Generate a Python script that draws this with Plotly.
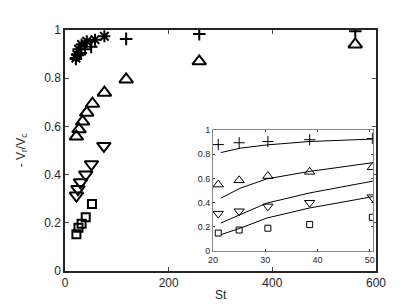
import plotly.graph_objects as go

# ---- main panel data ----
plus_st = [21, 25, 30.5, 38.5, 50.5, 118, 259, 560]
plus_v = [0.88, 0.895, 0.905, 0.92, 0.93, 0.963, 0.983, 0.995]
star_st = [21, 23, 26, 32, 42, 58, 76]
star_v = [0.884, 0.898, 0.92, 0.94, 0.953, 0.96, 0.974]
tri_st = [22, 27, 34, 42, 53, 76, 118, 259, 560]
tri_v = [0.558, 0.588, 0.62, 0.657, 0.694, 0.74, 0.795, 0.87, 0.94]
tdn_st = [22, 25, 30, 40, 51, 75]
tdn_v = [0.313, 0.34, 0.368, 0.40, 0.443, 0.519]
sq_st = [22, 26, 32, 40, 52]
sq_v = [0.152, 0.179, 0.196, 0.223, 0.278]

# ---- inset data ----
in_st = [21, 25, 30.5, 38.5, 50.5]
in_plus = [0.88, 0.895, 0.905, 0.92, 0.93]
in_tri = [0.55, 0.585, 0.62, 0.655, 0.693]
in_tdn = [0.31, 0.33, 0.37, 0.40, 0.446]
in_sq = [0.15, 0.175, 0.19, 0.22, 0.28]
curve_st = [21.5, 25.2, 30.3, 38.4, 50.8]
curve_plus = [0.814, 0.85, 0.877, 0.905, 0.926]
curve_tri = [0.438, 0.52, 0.597, 0.658, 0.732]
curve_tdn = [0.233, 0.30, 0.397, 0.48, 0.58]
curve_sq = [0.137, 0.19, 0.274, 0.356, 0.452]

FONT = "Liberation Sans, Arial, sans-serif"
fig = go.Figure()

def mk(x, y, sym, size, lw, xa="x", ya="y"):
    fig.add_trace(go.Scatter(x=x, y=y, mode="markers", xaxis=xa, yaxis=ya,
                             marker=dict(symbol=sym, size=size, color="black",
                                         line=dict(color="black", width=lw)),
                             showlegend=False, cliponaxis=True))

mk(plus_st, plus_v, "cross-thin-open", 9, 2)
mk(star_st, star_v, "asterisk-open", 10, 2)
mk(tri_st, tri_v, "triangle-up-open", 12, 2)
mk(tdn_st, tdn_v, "triangle-down-open", 12, 2)
mk(sq_st, sq_v, "square-open", 8, 2)

for cv in [curve_plus, curve_tri, curve_tdn, curve_sq]:
    fig.add_trace(go.Scatter(x=curve_st, y=cv, mode="lines", xaxis="x2", yaxis="y2",
                             line=dict(color="black", width=1), showlegend=False))
mk(in_st, in_plus, "cross-thin-open", 8, 1, "x2", "y2")
mk(in_st, in_tri, "triangle-up-open", 9, 1, "x2", "y2")
mk(in_st, in_tdn, "triangle-down-open", 9, 1, "x2", "y2")
mk(in_st, in_sq, "square-open", 6, 1, "x2", "y2")

fig.add_annotation(text="St", xref="paper", yref="paper", x=0.5, y=-0.1,
                   xanchor="center", yanchor="middle", showarrow=False,
                   font=dict(size=12, color="#262626"))

fig.update_layout(
    width=407, height=305,
    margin=dict(l=53, r=39, t=22, b=42),
    paper_bgcolor="white", plot_bgcolor="white",
    font=dict(family=FONT, size=12, color="#262626"),
    xaxis=dict(range=[0, 600], tickvals=[0, 200, 400, 600], ticks="inside", ticklen=4,
               showline=True, linecolor="#262626", linewidth=1.5, mirror="ticks",
               showgrid=False, zeroline=False),
    yaxis=dict(range=[0, 1], tickvals=[0, 0.2, 0.4, 0.6, 0.8, 1],
               ticktext=["0", "0.2", "0.4", "0.6", "0.8", "1"], ticks="inside", ticklen=4,
               showline=True, linecolor="#262626", linewidth=1.5, mirror="ticks",
               showgrid=False, zeroline=False,
               title=dict(text="- V<sub>r</sub>/V<sub>c</sub>", standoff=16, font=dict(size=12))),
    xaxis2=dict(domain=[0.476, 0.990], anchor="y2", range=[20, 50.6],
                tickvals=[20, 30, 40, 50], ticks="inside", ticklen=2,
                showline=True, linecolor="#888888", linewidth=1, mirror="ticks",
                showgrid=False, zeroline=False, tickfont=dict(size=9)),
    yaxis2=dict(domain=[0.082, 0.585], anchor="x2", range=[0, 1],
                tickvals=[0, 0.2, 0.4, 0.6, 0.8, 1],
                ticktext=["0", "0.2", "0.4", "0.6", "0.8", "1"], ticks="inside", ticklen=2,
                showline=True, linecolor="#888888", linewidth=1, mirror="ticks",
                showgrid=False, zeroline=False, tickfont=dict(size=9)),
)

fig.write_html("out.html")
